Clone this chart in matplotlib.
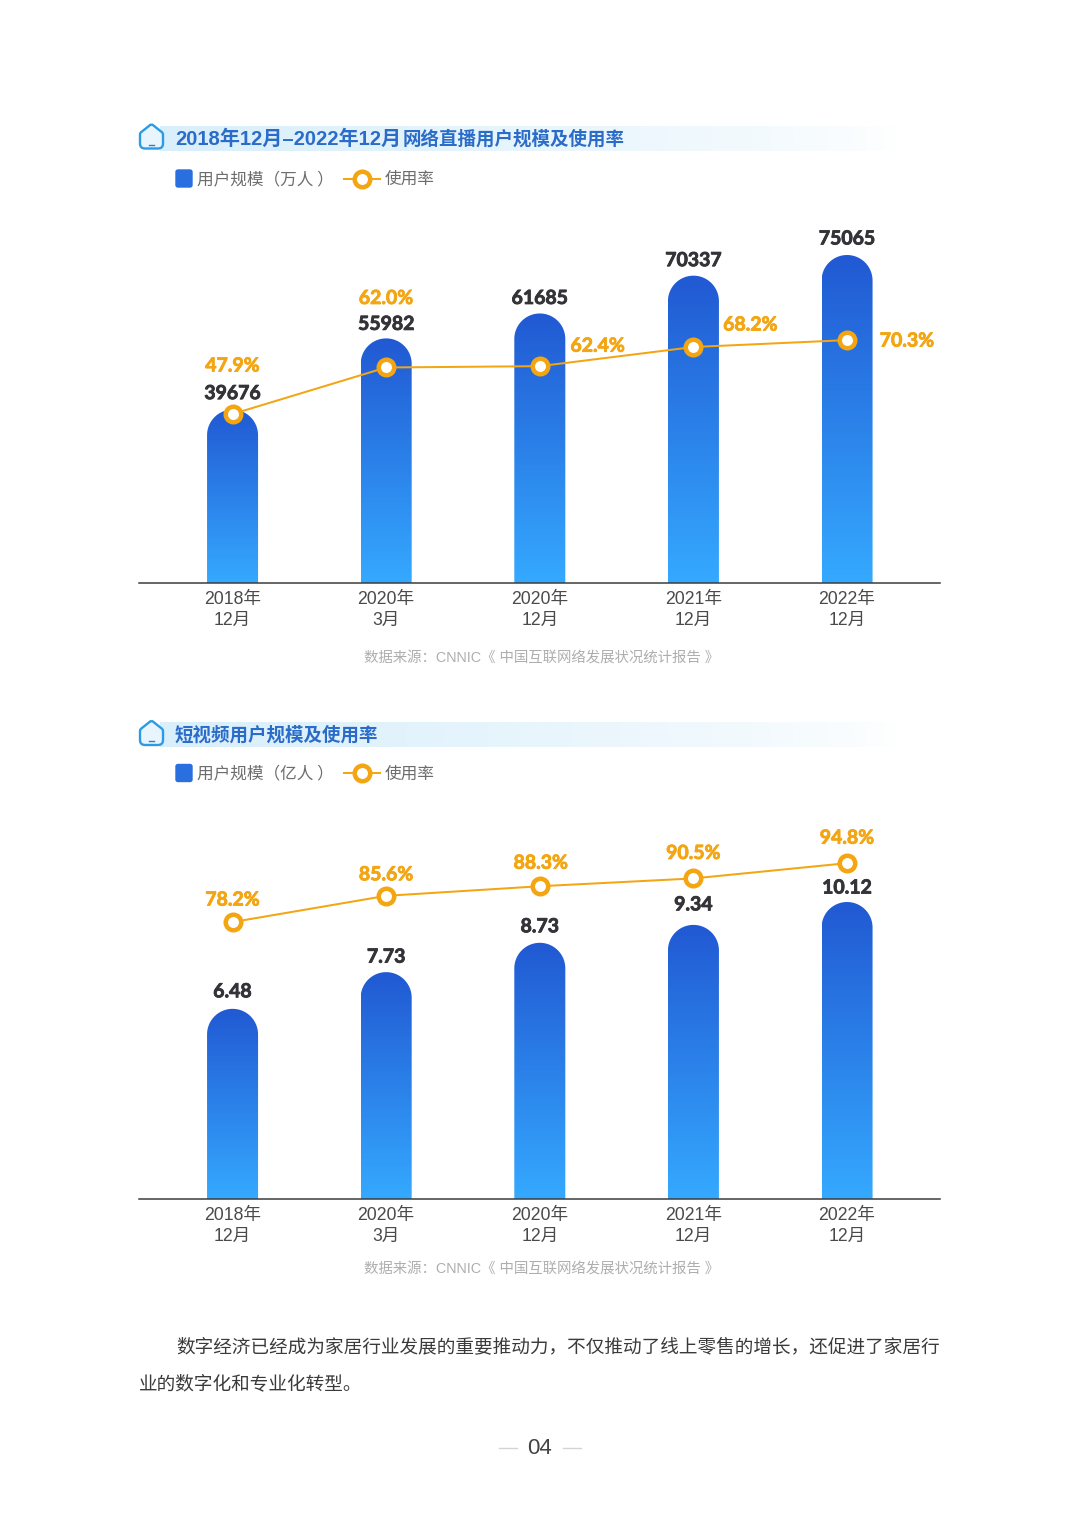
#!/usr/bin/env python
"""Two bar + line charts of live streaming and short video users, report page 04."""

import numpy as np
import matplotlib
matplotlib.use('Agg')
import matplotlib.pyplot as plt
import matplotlib.patheffects as pe
from matplotlib.colors import LinearSegmentedColormap, to_rgb
from matplotlib.patches import FancyBboxPatch, PathPatch
from matplotlib.path import Path

CJK = 'Noto Sans CJK SC'
plt.rcParams['font.family'] = [CJK, 'DejaVu Sans']

# --- Data ---
tick_labels = ['2018年\n12月', '2020年\n3月', '2020年\n12月', '2021年\n12月', '2022年\n12月']

live_users = [39676, 55982, 61685, 70337, 75065]
live_rate = [47.9, 62.0, 62.4, 68.2, 70.3]
live_user_labels = ['39676', '55982', '61685', '70337', '75065']

video_users = [6.48, 7.73, 8.73, 9.34, 10.12]
video_rate = [78.2, 85.6, 88.3, 90.5, 94.8]
video_user_labels = ['6.48', '7.73', '8.73', '9.34', '10.12']

# --- Style ---
W, H = 1080, 1515
BAR_TOP = '#2159d3'
BAR_BOTTOM = '#35a9ff'
ORANGE = '#f3a512'
DARK = '#333338'
NUM_FONT = ['Lato', 'DejaVu Sans']
LATIN = ['Liberation Sans', CJK]
PX = 0.72  # one pixel in points at dpi 100

bar_cmap = LinearSegmentedColormap.from_list('bar', [BAR_BOTTOM, BAR_TOP])
gradient = np.linspace(0, 1, 256).reshape(-1, 1)

fig = plt.figure(figsize=(W / 100, H / 100), dpi=100, facecolor='white')

# page layer in pixel coordinates, for everything that is not chart
page = fig.add_axes([0, 0, 1, 1], zorder=0)
page.set_xlim(0, W)
page.set_ylim(H, 0)
page.axis('off')


def draw_heading(y, pieces):
    """Title band, little house icon and title text, y is the band center."""
    band = np.ones((1, 256, 4))
    band[..., :3] = to_rgb('#d9effb')
    band[..., 3] = np.linspace(1, 0, 256) ** 0.7
    page.imshow(band, extent=(160, 897, y + 12.5, y - 12.5), aspect='auto', zorder=1)
    page.set_xlim(0, W)
    page.set_ylim(H, 0)

    x0, x1 = 140, 163
    top, mid, bottom = y - 14, y - 5, y + 10
    house = Path(
        [(x0 + 5, bottom), (x0, bottom), (x0, bottom - 5), (x0, mid + 1), (x0, mid - 1),
         (x0 + 2, mid - 2), ((x0 + x1) / 2 - 2, top + 1), ((x0 + x1) / 2, top - 1),
         ((x0 + x1) / 2 + 2, top + 1), (x1 - 2, mid - 2), (x1, mid - 1), (x1, mid + 1),
         (x1, bottom - 5), (x1, bottom), (x1 - 5, bottom), (x0 + 5, bottom)],
        [Path.MOVETO, Path.CURVE3, Path.CURVE3, Path.LINETO, Path.CURVE3, Path.CURVE3,
         Path.LINETO, Path.CURVE3, Path.CURVE3, Path.LINETO, Path.CURVE3, Path.CURVE3,
         Path.LINETO, Path.CURVE3, Path.CURVE3, Path.CLOSEPOLY])
    page.add_patch(PathPatch(house, facecolor='#e8f5fd', edgecolor='#2b9be6', lw=1.7, zorder=2))
    page.plot([149, 154], [y + 6, y + 6], color='#2b7fd0', lw=1, zorder=3)
    # the digits of the reference title run wider than the Chinese part
    for x, text, size in pieces:
        page.text(x, y + 0.5, text, fontsize=size, fontweight='bold', color='#2b6cc9', family=LATIN,
                  ha='left', va='center', zorder=3)


def draw_legend(y, label):
    page.add_patch(FancyBboxPatch((176, y - 8.5), 16, 17, boxstyle='round,pad=0,rounding_size=2',
                                  facecolor='#2a6fe0', edgecolor='#2a6fe0', lw=1, zorder=2))
    page.text(197, y + 1, label, fontsize=12, color='#6d6d6d', ha='left', va='center')
    page.plot([344, 380], [y, y], color=ORANGE, lw=2 * PX, zorder=2)
    page.plot([362], [y], marker='o', ms=15.5 * PX, mfc='white', mec=ORANGE, mew=4.5 * PX, zorder=3)
    page.text(385, y + 1, '使用率', fontsize=12, color='#6d6d6d', ha='left', va='center')


def bold_label(ax, text, xy, offset, color):
    t = ax.annotate(text, xy, xytext=(offset[0] * PX, offset[1] * PX), textcoords='offset points',
                    ha='center', va='center', fontsize=14, fontweight='bold', family=NUM_FONT,
                    color=color, zorder=6)
    t.set_path_effects([pe.withStroke(linewidth=0.6, foreground=color)])


def draw_chart(baseline, top, users, rate, user_labels, user_max, rate_lim,
               user_offsets, rate_offsets):
    """Bar axis plus a twin axis for the rate line, placed by page pixels."""
    ax = fig.add_axes([139 / W, 1 - baseline / H, 801 / W, (baseline - top) / H], zorder=2)
    ax.patch.set_alpha(0)
    ax.set_xlim(-0.609, 4.605)
    ax.set_ylim(0, user_max)

    # rounded bars: vertical gradient clipped to a path with a round top
    bar_w = 0.332
    x_pos = np.arange(len(users))
    radius_y = 25.5 * user_max / (baseline - top)
    for xp, val in zip(x_pos, users):
        left, right = xp - bar_w / 2, xp + bar_w / 2
        theta = np.linspace(np.pi, 0, 40)
        xs = np.r_[left, xp + bar_w / 2 * np.cos(theta), right, left]
        ys = np.r_[0, val - radius_y + radius_y * np.sin(theta), 0, 0]
        im = ax.imshow(gradient, extent=(left, right, 0, val), origin='lower', aspect='auto',
                       cmap=bar_cmap, zorder=2)
        clip = PathPatch(Path(np.column_stack([xs, ys])), transform=ax.transData,
                         facecolor='none', edgecolor='none')
        ax.add_patch(clip)
        im.set_clip_path(clip)
        bold_label(ax, user_labels[xp], (xp, val), (0, user_offsets[xp]), DARK)
    ax.set_xlim(-0.609, 4.605)
    ax.set_ylim(0, user_max)

    ax.set_yticks([])
    for side in ['top', 'left', 'right']:
        ax.spines[side].set_visible(False)
    ax.spines['bottom'].set_color('#3c3c3c')
    ax.spines['bottom'].set_linewidth(1.1)
    ax.set_xticks(x_pos)
    ax.set_xticklabels(tick_labels, family=LATIN, fontsize=12.7, color='#4a4a4a', linespacing=1.25)
    ax.tick_params(axis='x', length=0, pad=6)

    line_ax = ax.twinx()
    line_ax.patch.set_alpha(0)
    line_ax.set_ylim(*rate_lim)
    line_ax.set_yticks([])
    for side in line_ax.spines:
        line_ax.spines[side].set_visible(False)
    line_ax.plot(x_pos, rate, color=ORANGE, lw=2 * PX, marker='o', ms=15.5 * PX,
                 mfc='white', mec=ORANGE, mew=4.5 * PX, zorder=5)
    for xp, val in enumerate(rate):
        bold_label(line_ax, f'{val:.1f}%', (xp, val), rate_offsets[xp], ORANGE)


# --- First chart ---
draw_heading(138.5, [(175, '2018年12月–2022年12月', 14.5), (403, '网络直播用户规模及使用率', 13.3)])
draw_legend(178.5, '用户规模（万人 ）')
draw_chart(583, 200, live_users, live_rate, live_user_labels,
           user_max=75065 * 383 / 328, rate_lim=(-3.3, 112.75),
           user_offsets=[16, 14, 15, 15, 16],
           rate_offsets=[(0, 48), (0, 69), (58, 20), (57, 22), (60, -1)])
page.text(541.5, 658, '数据来源：CNNIC《 中国互联网络发展状况统计报告 》', family=LATIN,
          fontsize=10.4, color='#aeaeae', ha='center', va='center')

# --- Second chart ---
draw_heading(735, [(175, '短视频用户规模及使用率', 13.3)])
draw_legend(773, '用户规模（亿人 ）')
draw_chart(1199, 800, video_users, video_rate, video_user_labels,
           user_max=10.12 * 399 / 297, rate_lim=(0.17, 112.6),
           user_offsets=[17, 15, 16, 20, 14],
           rate_offsets=[(0, 22), (0, 21), (1, 23), (0, 25), (0, 25)])
page.text(541.5, 1269, '数据来源：CNNIC《 中国互联网络发展状况统计报告 》', family=LATIN,
          fontsize=10.4, color='#aeaeae', ha='center', va='center')

# --- Body text and page number ---
page.text(176, 1347, '数字经济已经成为家居行业发展的重要推动力，不仅推动了线上零售的增长，还促进了家居行',
          fontsize=13.4, color='#3a3a3a', ha='left', va='center')
page.text(139, 1384, '业的数字化和专业化转型。', fontsize=13.4, color='#3a3a3a', ha='left', va='center')
page.text(540, 1448.5, '04', family=LATIN, fontsize=16, color='#444444', ha='center', va='center')
page.plot([499, 517], [1448, 1448], color='#d4d4d4', lw=1)
page.plot([563, 581], [1448, 1448], color='#d4d4d4', lw=1)

fig.savefig('out.png', dpi=100, facecolor='white')
